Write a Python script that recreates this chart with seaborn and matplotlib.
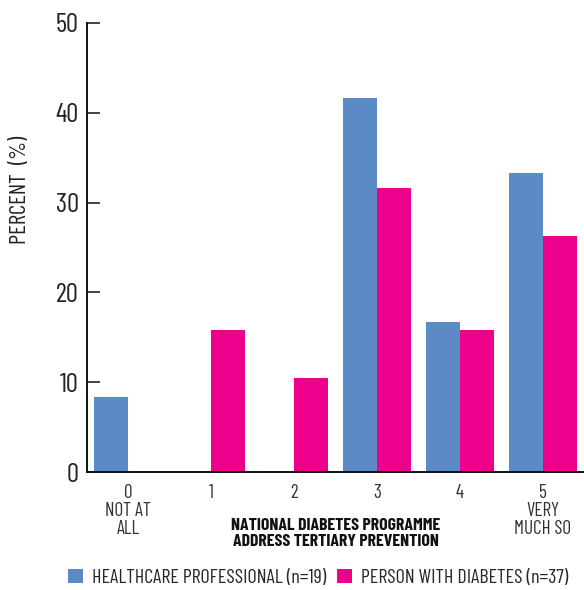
import matplotlib
matplotlib.use("Agg")
import matplotlib.pyplot as plt
from matplotlib import font_manager
from matplotlib.patches import Patch
import seaborn as sns
import pandas as pd

categories = ["0\nNOT AT\nALL", "1", "2", "3", "4", "5\nVERY\nMUCH SO"]
healthcare_professional = [8.3, 0.0, 0.0, 41.7, 16.7, 33.3]
person_with_diabetes = [0.0, 15.8, 10.5, 31.6, 15.8, 26.3]
series_names = ["HEALTHCARE PROFESSIONAL (n=19)", "PERSON WITH DIABETES (n=37)"]
y_ticks = [0, 10, 20, 30, 40, 50]
colors = ["#5B8AC6", "#EC008C"]

sns.set_theme(style="white")
names = {f.name for f in font_manager.fontManager.ttflist}
fam = "Barlow Condensed" if "Barlow Condensed" in names else "DejaVu Sans"
plt.rcParams["font.family"] = [fam, "DejaVu Sans"]

df = pd.DataFrame({
    "category": categories * 2,
    "value": healthcare_professional + person_with_diabetes,
    "series": [series_names[0]] * 6 + [series_names[1]] * 6,
})

fig = plt.figure(figsize=(5.84, 5.90), dpi=100)
ax = fig.add_axes([87 / 584, 1 - 472 / 590, 1 - 87 / 584, (472 - 23) / 590])
sns.barplot(data=df, x="category", y="value", hue="series", palette=colors,
            width=0.82, saturation=1, linewidth=0, ax=ax, legend=False)

ax.set_xlim(-0.5, 5.5)
ax.set_ylim(0, 50)
ax.set_yticks(y_ticks)
ax.set_yticklabels([str(t) for t in y_ticks], fontsize=19.5, color="#222222")
ax.tick_params(axis="y", direction="in", length=9, width=1.2, color="#222222", pad=6, left=True)
ax.tick_params(axis="x", length=0, pad=9)
for lab in ax.get_xticklabels():
    lab.set_fontsize(13.8)
    lab.set_color("#333333")
    lab.set_linespacing(0.98)
    lab.set_verticalalignment("top")

for s in ["top", "right"]:
    ax.spines[s].set_visible(False)
for s in ["left", "bottom"]:
    ax.spines[s].set_color("#111111")
    ax.spines[s].set_linewidth(1.4)

ax.set_ylabel("PERCENT  (%)", fontsize=16.5, color="#222222")
ax.yaxis.set_label_coords(-0.112, 0.628)
ax.set_xlabel("NATIONAL DIABETES PROGRAMME\nADDRESS TERTIARY PREVENTION",
              fontsize=12.8, fontweight="bold", color="#111111", linespacing=1.1)
ax.xaxis.set_label_coords(0.5, -0.102)
ax.xaxis.label.set_verticalalignment("top")

handles = [Patch(facecolor=c, edgecolor="none") for c in colors]
fig.legend(handles, series_names, loc="center", bbox_to_anchor=(318 / 584, 1 - 578 / 590),
           ncol=2, frameon=False, fontsize=14.4, handlelength=0.73, handleheight=0.73,
           handletextpad=0.45, columnspacing=0.55, borderaxespad=0)

fig.savefig("out.png", dpi=100)
